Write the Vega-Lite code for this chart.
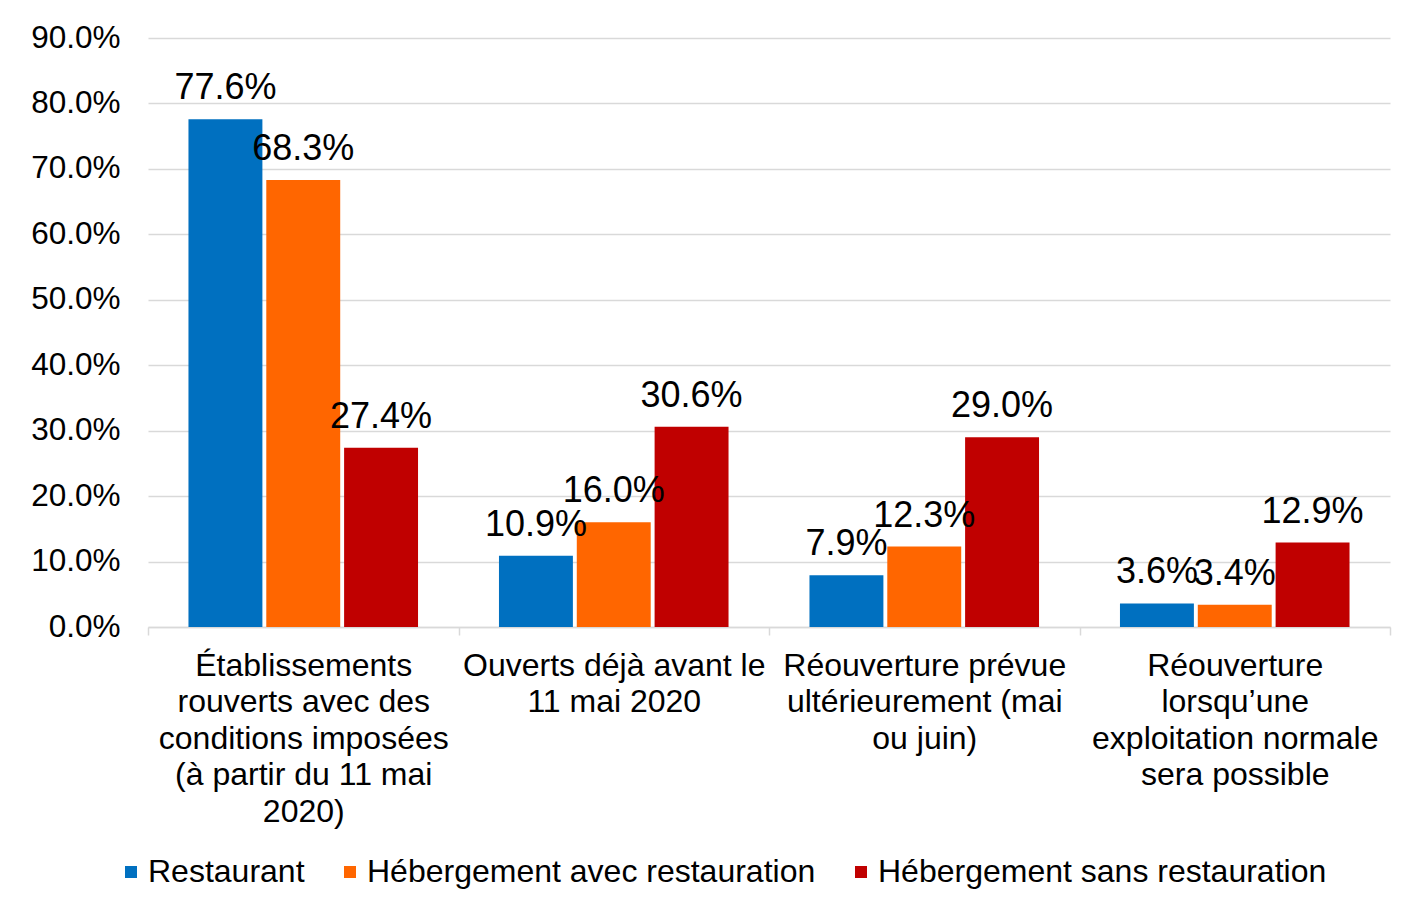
{
  "$schema": "https://vega.github.io/schema/vega-lite/v6.json",
  "width": 1242,
  "height": 589,
  "autosize": {"type": "none"},
  "padding": {"left": 148, "top": 38, "right": 12, "bottom": 281},
  "background": "white",
  "config": {"font": "Liberation Sans", "view": {"stroke": null}},
  "data": {
    "values": [
      {"cat": "Établissements\nrouverts avec des\nconditions imposées\n(à partir du 11 mai\n2020)", "serie": "Restaurant", "v": 0.776},
      {"cat": "Établissements\nrouverts avec des\nconditions imposées\n(à partir du 11 mai\n2020)", "serie": "Hébergement avec restauration", "v": 0.683},
      {"cat": "Établissements\nrouverts avec des\nconditions imposées\n(à partir du 11 mai\n2020)", "serie": "Hébergement sans restauration", "v": 0.274},
      {"cat": "Ouverts déjà avant le\n11 mai 2020", "serie": "Restaurant", "v": 0.109},
      {"cat": "Ouverts déjà avant le\n11 mai 2020", "serie": "Hébergement avec restauration", "v": 0.160},
      {"cat": "Ouverts déjà avant le\n11 mai 2020", "serie": "Hébergement sans restauration", "v": 0.306},
      {"cat": "Réouverture prévue\nultérieurement (mai\nou juin)", "serie": "Restaurant", "v": 0.079},
      {"cat": "Réouverture prévue\nultérieurement (mai\nou juin)", "serie": "Hébergement avec restauration", "v": 0.123},
      {"cat": "Réouverture prévue\nultérieurement (mai\nou juin)", "serie": "Hébergement sans restauration", "v": 0.290},
      {"cat": "Réouverture\nlorsqu’une\nexploitation normale\nsera possible", "serie": "Restaurant", "v": 0.036},
      {"cat": "Réouverture\nlorsqu’une\nexploitation normale\nsera possible", "serie": "Hébergement avec restauration", "v": 0.034},
      {"cat": "Réouverture\nlorsqu’une\nexploitation normale\nsera possible", "serie": "Hébergement sans restauration", "v": 0.129}
    ]
  },
  "encoding": {
    "x": {
      "field": "cat",
      "type": "nominal",
      "sort": null,
      "scale": {"paddingInner": 0, "paddingOuter": 0},
      "axis": {
        "title": null,
        "labelAngle": 0,
        "labelExpr": "split(datum.label, '\\n')",
        "labelFontSize": 32,
        "labelLineHeight": 36.5,
        "labelColor": "#000000",
        "labelLimit": 400,
        "labelPadding": 15,
        "domainColor": "#d9d9d9",
        "domainWidth": 1.5,
        "tickColor": "#d9d9d9",
        "tickWidth": 1.5,
        "tickSize": 8,
        "tickBand": "extent"
      }
    },
    "xOffset": {
      "field": "serie",
      "type": "nominal",
      "sort": ["Restaurant", "Hébergement avec restauration", "Hébergement sans restauration"],
      "scale": {"paddingInner": 0.05, "paddingOuter": 0.52}
    },
    "y": {
      "field": "v",
      "type": "quantitative",
      "scale": {"domain": [0, 0.9]},
      "axis": {
        "title": null,
        "format": ".1%",
        "values": [0, 0.1, 0.2, 0.3, 0.4, 0.5, 0.6, 0.7, 0.8, 0.9],
        "labelFontSize": 31.5,
        "labelColor": "#000000",
        "labelPadding": 28,
        "domain": false,
        "ticks": false,
        "gridColor": "#d9d9d9",
        "gridWidth": 1.5
      }
    }
  },
  "layer": [
    {
      "mark": {"type": "bar"},
      "encoding": {
        "color": {
          "field": "serie",
          "type": "nominal",
          "sort": ["Restaurant", "Hébergement avec restauration", "Hébergement sans restauration"],
          "scale": {
            "domain": ["Restaurant", "Hébergement avec restauration", "Hébergement sans restauration"],
            "range": ["#0070C0", "#FF6600", "#C00000"]
          },
          "legend": {
            "title": null,
            "orient": "none",
            "direction": "horizontal",
            "legendX": -33,
            "legendY": 818,
            "padding": 0,
            "symbolType": "square",
            "symbolSize": 144,
            "symbolStrokeWidth": 0,
            "symbolOpacity": 1,
            "labelFontSize": 32,
            "labelColor": "#000000",
            "labelOffset": 1,
            "columnPadding": 29,
            "labelLimit": 600
          }
        }
      }
    },
    {
      "mark": {"type": "text", "fontSize": 36, "baseline": "alphabetic", "dy": -20, "color": "#000000"},
      "encoding": {"text": {"field": "v", "type": "quantitative", "format": ".1%"}}
    }
  ]
}
